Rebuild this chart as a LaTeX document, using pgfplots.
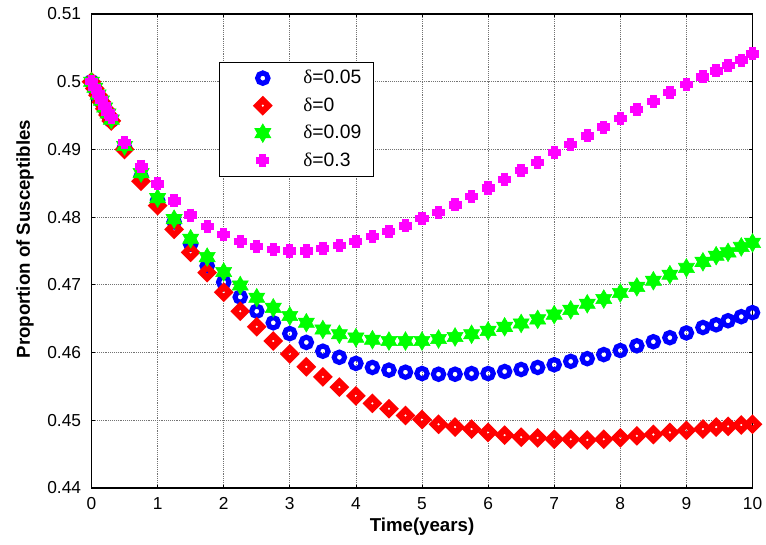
\documentclass[border=0pt]{standalone}
\usepackage{pgfplots}
\pgfplotsset{compat=1.18}
\usepackage{fontspec}
\setmainfont{Liberation Sans}
\newfontfamily\symfont{Liberation Serif}
\definecolor{mblue}{RGB}{0,0,255}
\definecolor{mred}{RGB}{255,0,0}
\definecolor{mgreen}{RGB}{0,255,0}
\definecolor{mmag}{RGB}{255,0,255}

\pgfdeclareplotmark{hexagram}{%
  \pgfpathmoveto{\pgfpointpolar{90}{\pgfplotmarksize}}%
  \pgfpathlineto{\pgfpointpolar{210}{\pgfplotmarksize}}%
  \pgfpathlineto{\pgfpointpolar{330}{\pgfplotmarksize}}%
  \pgfpathclose
  \pgfpathmoveto{\pgfpointpolar{270}{\pgfplotmarksize}}%
  \pgfpathlineto{\pgfpointpolar{30}{\pgfplotmarksize}}%
  \pgfpathlineto{\pgfpointpolar{150}{\pgfplotmarksize}}%
  \pgfpathclose
  \pgfusepathqfillstroke
}

\pgfplotstableread{
t      blue    red     green   pink
0      0.5000  0.5000  0.5000  0.5000
0.05   0.4990  0.4990  0.4991  0.4991
0.10   0.4980  0.4980  0.4981  0.4982
0.15   0.4971  0.4970  0.4972  0.4973
0.20   0.4961  0.4960  0.4962  0.4964
0.25   0.4952  0.4951  0.4953  0.4955
0.30   0.4943  0.4942  0.4944  0.4947
0.50   0.4903  0.4900  0.4905  0.4910
0.75   0.4860  0.4853  0.4865  0.4875
1.00   0.4825  0.4817  0.4828  0.4849
1.25   0.4793  0.4782  0.4797  0.4824
1.50   0.4760  0.4748  0.4768  0.4803
1.75   0.4728  0.4718  0.4741  0.4786
2.00   0.4704  0.4689  0.4719  0.4774
2.25   0.4682  0.4661  0.4699  0.4764
2.50   0.4661  0.4638  0.4681  0.4757
2.75   0.4644  0.4617  0.4666  0.4752
3.00   0.4628  0.4598  0.4654  0.4750
3.25   0.4615  0.4579  0.4644  0.4750
3.50   0.4602  0.4564  0.4634  0.4754
3.75   0.4593  0.4549  0.4627  0.4758
4.00   0.4584  0.4536  0.4622  0.4764
4.25   0.4578  0.4525  0.4619  0.4771
4.50   0.4574  0.4517  0.4617  0.4779
4.75   0.4571  0.4507  0.4617  0.4787
5.00   0.4569  0.4501  0.4617  0.4798
5.25   0.4568  0.4494  0.4620  0.4807
5.50   0.4568  0.4490  0.4623  0.4818
5.75   0.4569  0.4487  0.4627  0.4830
6.00   0.4569  0.4482  0.4632  0.4843
6.25   0.4572  0.4478  0.4638  0.4856
6.50   0.4575  0.4475  0.4643  0.4869
6.75   0.4578  0.4474  0.4649  0.4881
7.00   0.4582  0.4472  0.4656  0.4895
7.25   0.4587  0.4472  0.4663  0.4907
7.50   0.4591  0.4471  0.4672  0.4920
7.75   0.4597  0.4472  0.4679  0.4933
8.00   0.4603  0.4474  0.4688  0.4946
8.25   0.4610  0.4477  0.4697  0.4959
8.50   0.4616  0.4479  0.4706  0.4971
8.75   0.4622  0.4482  0.4715  0.4984
9.00   0.4629  0.4485  0.4725  0.4996
9.25   0.4637  0.4487  0.4734  0.5007
9.45   0.4641  0.4490  0.4743  0.5016
9.63   0.4647  0.4491  0.4748  0.5024
9.83   0.4653  0.4493  0.4756  0.5032
10.00  0.4659  0.4494  0.4762  0.5041
}\datatable

\begin{document}
\begin{tikzpicture}
\begin{axis}[
  name=ax,
  scale only axis,
  width=495.75pt, height=355.5pt,
  xmin=0, xmax=10, ymin=0.44, ymax=0.51,
  xtick={0,1,2,3,4,5,6,7,8,9,10},
  ytick={0.44,0.45,0.46,0.47,0.48,0.49,0.5,0.51},
  grid=major,
  grid style={densely dotted, black!55, line width=0.6pt},
  axis line style={line width=0.8pt},
  tick align=inside,
  major tick length=2.5pt,
  tick style={black, line width=0.6pt},
  /pgf/number format/assume math mode=true,
  tick label style={font=\fontsize{13}{15}\selectfont},
  y tick label style={/pgf/number format/.cd, fixed, precision=2, /tikz/.cd, xshift=-4.3pt},
  x tick label style={yshift=-3.6pt},
  scaled y ticks=false,
  clip=false,
  xlabel={Time(years)},
  ylabel={Proportion of Susceptibles},
  label style={font=\bfseries\fontsize{14}{16}\selectfont},
  xlabel style={at={(axis description cs:0.5,-0.0816)}, anchor=center},
  ylabel style={at={(axis description cs:-0.1006,0.525)}, anchor=center},
  legend image code/.code={%
    \path (0pt,0pt) (56pt,0pt);
    \draw[mark repeat=2,mark phase=2,#1] plot coordinates {(0pt,0pt)(28pt,0pt)(56pt,0pt)};},
  legend cell align=left,
  legend style={
    at={(rel axis cs:0.193,0.899)}, anchor=north west,
    draw=black, line width=0.8pt, fill=white,
    inner xsep=4pt, inner ysep=4pt,
    row sep=5pt,
    font=\fontsize{14.5}{17}\selectfont,
    nodes={inner xsep=2pt, inner ysep=2pt},
  },
]
\addplot[only marks, mark=o, mark size=3.9pt,
  mark options={draw=mblue, line width=3.8pt}] table[x=t, y=blue] {\datatable};
\addlegendentry{\makebox[46.75pt][l]{{\symfont δ}=0.05}}
\addplot[only marks, mark=square, mark size=3pt,
  mark options={rotate=45, draw=mred, fill=white, line width=4.5pt}] table[x=t, y=red] {\datatable};
\addlegendentry{\makebox[46.75pt][l]{{\symfont δ}=0}}
\addplot[only marks, mark=hexagram, mark size=7pt,
  mark options={draw=mgreen, fill=mgreen, line width=0.4pt}] table[x=t, y=green] {\datatable};
\addlegendentry{\makebox[46.75pt][l]{{\symfont δ}=0.09}}
\addplot[only marks, mark=+, mark size=4.9pt,
  mark options={draw=mmag, line width=5.5pt}] table[x=t, y=pink] {\datatable};
\addlegendentry{\makebox[46.75pt][l]{{\symfont δ}=0.3}}
\end{axis}
\pgfresetboundingbox
\path[use as bounding box] ([shift={(-68.625pt,-42.75pt)}]ax.south west) rectangle ([shift={(10.125pt,10.5pt)}]ax.north east);
\end{tikzpicture}
\end{document}
